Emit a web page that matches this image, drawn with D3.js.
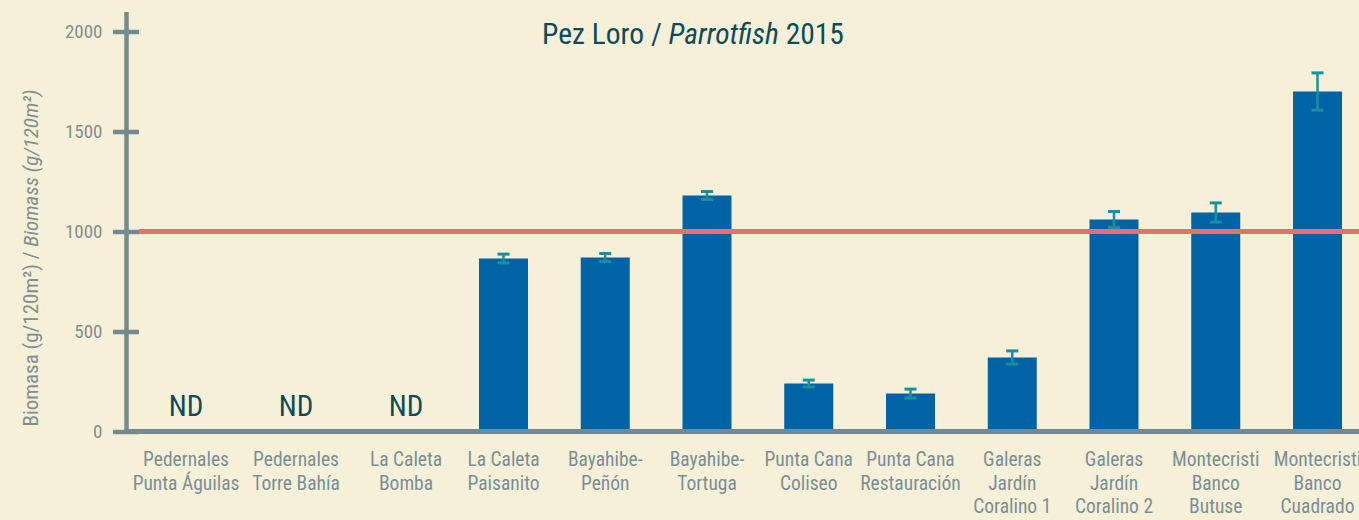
<!DOCTYPE html>
<html>
<head>
<meta charset="utf-8">
<script src="https://cdn.jsdelivr.net/npm/d3@7"></script>
<style>
  html, body { margin: 0; padding: 0; background: #f6f0d9; }
  svg { display: block; }
  text { font-family: "Liberation Sans Narrow", "Arial Narrow", "Roboto Condensed", sans-serif; }
</style>
</head>
<body>
<svg id="chart"></svg>
<script>
// categories (label lines) and values
const sites = [
  ["Pedernales", "Punta Águilas"],
  ["Pedernales", "Torre Bahía"],
  ["La Caleta", "Bomba"],
  ["La Caleta", "Paisanito"],
  ["Bayahibe-", "Peñón"],
  ["Bayahibe-", "Tortuga"],
  ["Punta Cana", "Coliseo"],
  ["Punta Cana", "Restauración"],
  ["Galeras", "Jardín", "Coralino 1"],
  ["Galeras", "Jardín", "Coralino 2"],
  ["Montecristi", "Banco", "Butuse"],
  ["Montecristi", "Banco", "Cuadrado"]
];
// null = ND (no data)
const biomass = [null, null, null, 865, 870, 1180, 240, 190, 370, 1060, 1095, 1700];
const errors  = [null, null, null, 22, 20, 20, 17, 22, 33, 40, 48, 93];
const yTicks = [0, 500, 1000, 1500, 2000];
const reference = 1000;

const width = 1359, height = 520;
const svg = d3.select("#chart").attr("width", width).attr("height", height);

// the ND sites sit a bit wider apart than the measured ones
const x = d3.scaleLinear()
  .domain([0, 2, 3, 11])
  .range([186, 406, 503.5, 1317.5]);
const barW = 49;

const y = d3.scaleLinear().domain([0, 2000]).range([431.5, 31.5]);

const axisColor = "#758a8e";

// bars
svg.append("g").selectAll("rect")
  .data(biomass.map((v, i) => ({ v, i })).filter(d => d.v != null))
  .enter().append("rect")
  .attr("x", d => x(d.i) - barW / 2)
  .attr("y", d => y(d.v))
  .attr("width", barW)
  .attr("height", d => y(0) - y(d.v))
  .attr("fill", "#0063a5");

// reference line at 1000
svg.append("line")
  .attr("x1", 139).attr("x2", width)
  .attr("y1", y(reference)).attr("y2", y(reference))
  .attr("stroke", "#e8706b").attr("stroke-width", 5);

// error bars
const eb = svg.append("g").attr("stroke", "#17909f").attr("stroke-width", 3)
  .selectAll("g")
  .data(biomass.map((v, i) => ({ v, e: errors[i], i })).filter(d => d.v != null))
  .enter().append("g")
  .attr("transform", d => `translate(${x(d.i)},0)`);
eb.append("line").attr("y1", d => y(d.v + d.e)).attr("y2", d => y(d.v - d.e)).attr("stroke-width", 2.5);
eb.append("line").attr("x1", -6).attr("x2", 6).attr("y1", d => y(d.v + d.e)).attr("y2", d => y(d.v + d.e));
eb.append("line").attr("x1", -6).attr("x2", 6).attr("y1", d => y(d.v - d.e)).attr("y2", d => y(d.v - d.e));

// ND labels
svg.append("g").selectAll("text")
  .data(biomass.map((v, i) => ({ v, i })).filter(d => d.v == null))
  .enter().append("text")
  .attr("x", d => x(d.i))
  .attr("y", 416)
  .attr("text-anchor", "middle")
  .attr("font-size", 29)
  .attr("fill", "#0c4c58")
  .text("ND");

// y axis
const yAxis = svg.append("g").attr("transform", "translate(126.5,0)")
  .call(d3.axisLeft(y).tickValues(yTicks).tickFormat(d3.format("d")).tickSize(0).tickPadding(24));
yAxis.select(".domain").remove();
yAxis.selectAll("text").attr("font-size", 19).attr("fill", "#7f8e90")
  .attr("font-family", "Liberation Sans Narrow, Arial Narrow, sans-serif");
yAxis.selectAll(".tick").append("line")
  .attr("x1", -13.5).attr("x2", 12.5)
  .attr("stroke", axisColor).attr("stroke-width", 4.5);
yAxis.append("line")
  .attr("y1", 12).attr("y2", y(0) + 2.5)
  .attr("stroke", axisColor).attr("stroke-width", 4.5);

// x axis
svg.append("line")
  .attr("x1", 124).attr("x2", width)
  .attr("y1", y(0)).attr("y2", y(0))
  .attr("stroke", axisColor).attr("stroke-width", 5);

// category labels
const cat = svg.append("g").selectAll("text")
  .data(sites)
  .enter().append("text")
  .attr("x", (d, i) => x(i))
  .attr("y", 466)
  .attr("text-anchor", "middle")
  .attr("font-size", 19.5)
  .attr("fill", "#7a8f94");
cat.selectAll("tspan")
  .data(d => d)
  .enter().append("tspan")
  .attr("x", function () { return d3.select(this.parentNode).attr("x"); })
  .attr("dy", (d, j) => (j === 0 ? 0 : 23.5))
  .text(d => d);

// title
const title = svg.append("text")
  .attr("x", 693).attr("y", 44)
  .attr("text-anchor", "middle")
  .attr("font-size", 29.5)
  .attr("fill", "#0c4c58");
title.append("tspan").text("Pez Loro / ");
title.append("tspan").attr("font-style", "italic").text("Parrotfish");
title.append("tspan").text(" 2015");

// y axis title
const yl = svg.append("text")
  .attr("transform", "translate(37.5,258) rotate(-90)")
  .attr("text-anchor", "middle")
  .attr("font-size", 21)
  .attr("fill", "#7f8e90");
yl.append("tspan").text("Biomasa (g/120m²) / ");
yl.append("tspan").attr("font-style", "italic").text("Biomass (g/120m²)");
</script>
</body>
</html>
